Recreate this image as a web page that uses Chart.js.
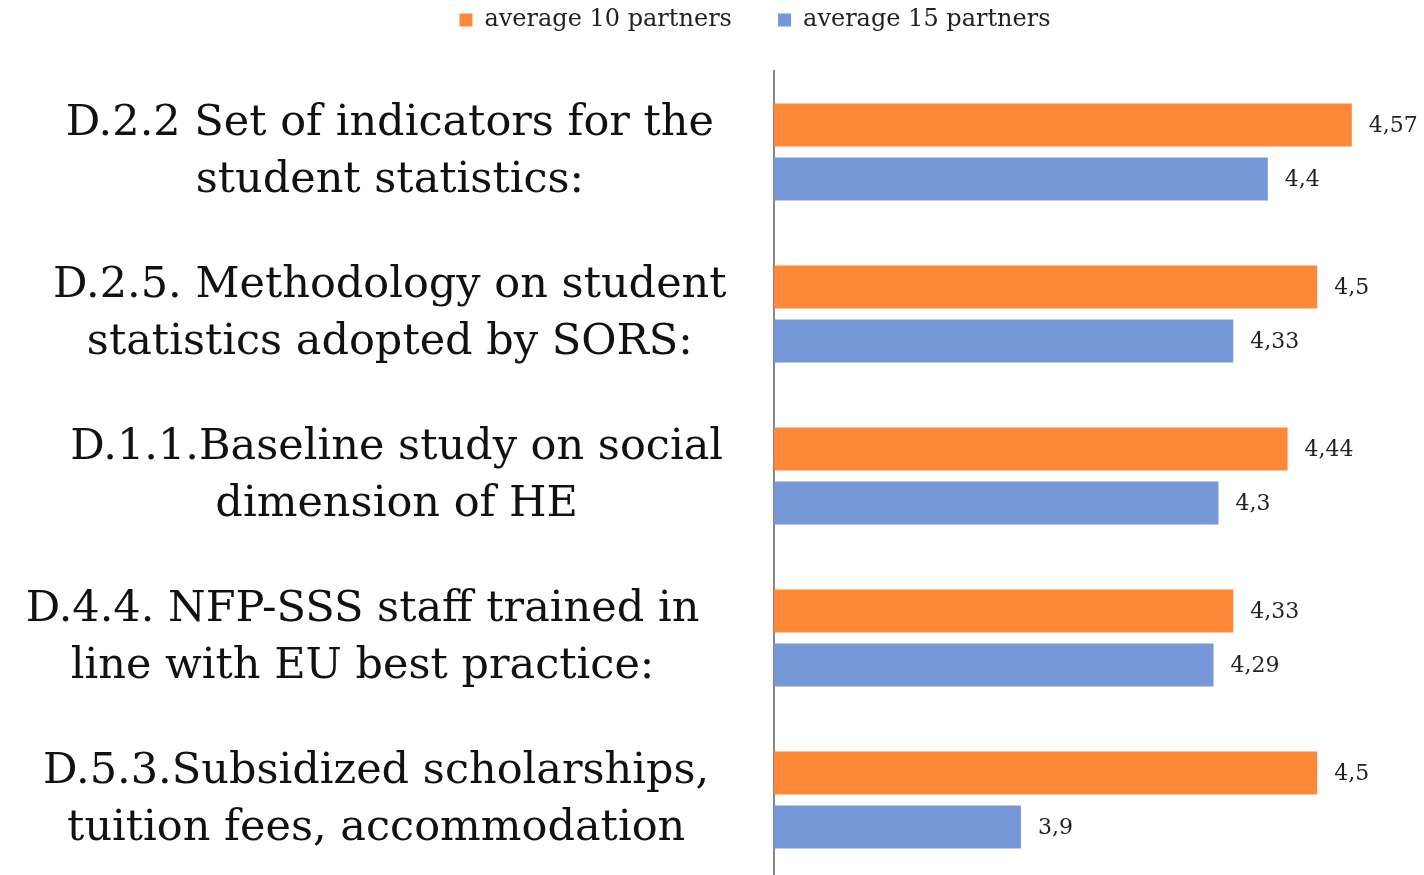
<!DOCTYPE html>
<html>
<head>
<meta charset="utf-8">
<script src="https://cdn.jsdelivr.net/npm/chart.js@4"></script>
<style>
  html, body { margin: 0; padding: 0; background: #fff; overflow: hidden; }
  #wrap { width: 1424px; height: 890px; }
</style>
</head>
<body>
<div id="wrap"><canvas id="myChart"></canvas></div>
<script>
// data
// (the \u00A0 spaces only nudge a label sideways, like in the original slide)
const categories = [
    ['D.2.2 Set of indicators for the', 'student statistics:'],
    ['D.2.5. Methodology on student', 'statistics adopted by SORS:'],
    ['\u00A0D.1.1.Baseline study on social', '\u00A0dimension of HE'],
    ['D.4.4. NFP-SSS staff trained in\u00A0\u00A0\u00A0\u00A0', 'line with EU best practice:\u00A0\u00A0\u00A0\u00A0'],
    ['D.5.3.Subsidized scholarships,\u00A0\u00A0', 'tuition fees, accommodation\u00A0\u00A0']
];
const seriesNames = ['average 10 partners', 'average 15 partners'];
const avg10 = [4.57, 4.5, 4.44, 4.33, 4.5];
const avg15 = [4.4, 4.33, 4.3, 4.29, 3.9];

const serif = "'DejaVu Serif', serif";

// push the plot down below the legend, and the legend a bit to the right
const legendGap = {
    id: 'legendGap',
    beforeInit(chart){
        const fit = chart.legend.fit;
        chart.legend.fit = function(){
            fit.bind(chart.legend)();
            this.height += 29;
        };
    },
    afterLayout(chart){
        chart.legend.left += 47;
        chart.legend.right += 47;
    }
};

// numbers at the end of the bars, with decimal comma
const valueLabels = {
    id: 'valueLabels',
    afterDatasetsDraw(chart){
        const ctx = chart.ctx;
        ctx.save();
        ctx.font = "22px " + serif;
        ctx.fillStyle = '#222';
        ctx.textAlign = 'left';
        ctx.textBaseline = 'middle';
        chart.data.datasets.forEach((ds, i) => {
            chart.getDatasetMeta(i).data.forEach((bar, j) => {
                ctx.fillText(String(ds.data[j]).replace('.', ','), bar.x + 17, bar.y + 1);
            });
        });
        ctx.restore();
    }
};

const ctx = document.getElementById('myChart').getContext('2d');
const myChart = new Chart(ctx, {
    type: 'bar',
    data: {
        labels: categories,
        datasets: [{
            label: seriesNames[0],
            data: avg10,
            backgroundColor: '#FF8838',
            categoryPercentage: 0.667,
            barPercentage: 0.8
        }, {
            label: seriesNames[1],
            data: avg15,
            backgroundColor: '#7698D8',
            categoryPercentage: 0.667,
            barPercentage: 0.8
        }]
    },
    options: {
        indexAxis: 'y',
        responsive: true,
        maintainAspectRatio: false,
        animation: false,
        layout: { padding: { left: 0, right: 8, top: 0, bottom: 9 } },
        plugins: {
            legend: {
                position: 'top',
                labels: {
                    boxWidth: 13,
                    boxHeight: 13,
                    padding: 8,
                    color: '#222',
                    font: { family: serif, size: 24 },
                    generateLabels(chart){
                        const items = Chart.defaults.plugins.legend.labels.generateLabels(chart);
                        items[0].text = items[0].text + '\u00A0\u00A0\u00A0\u00A0\u00A0';
                        return items;
                    }
                }
            },
            tooltip: { enabled: false }
        },
        scales: {
            x: {
                display: false,
                min: 3.4,
                max: 4.7
            },
            y: {
                grid: { display: false, drawTicks: false },
                border: { display: true, color: '#878787', width: 2 },
                ticks: {
                    color: '#111',
                    crossAlign: 'center',
                    padding: 20,
                    font: { family: serif, size: 43, lineHeight: 1.33 }
                },
                afterFit(scale){
                    scale.width = 774;
                    scale.paddingTop = 0;
                    scale.paddingBottom = 0;
                }
            }
        }
    },
    plugins: [legendGap, valueLabels]
});
</script>
</body>
</html>
